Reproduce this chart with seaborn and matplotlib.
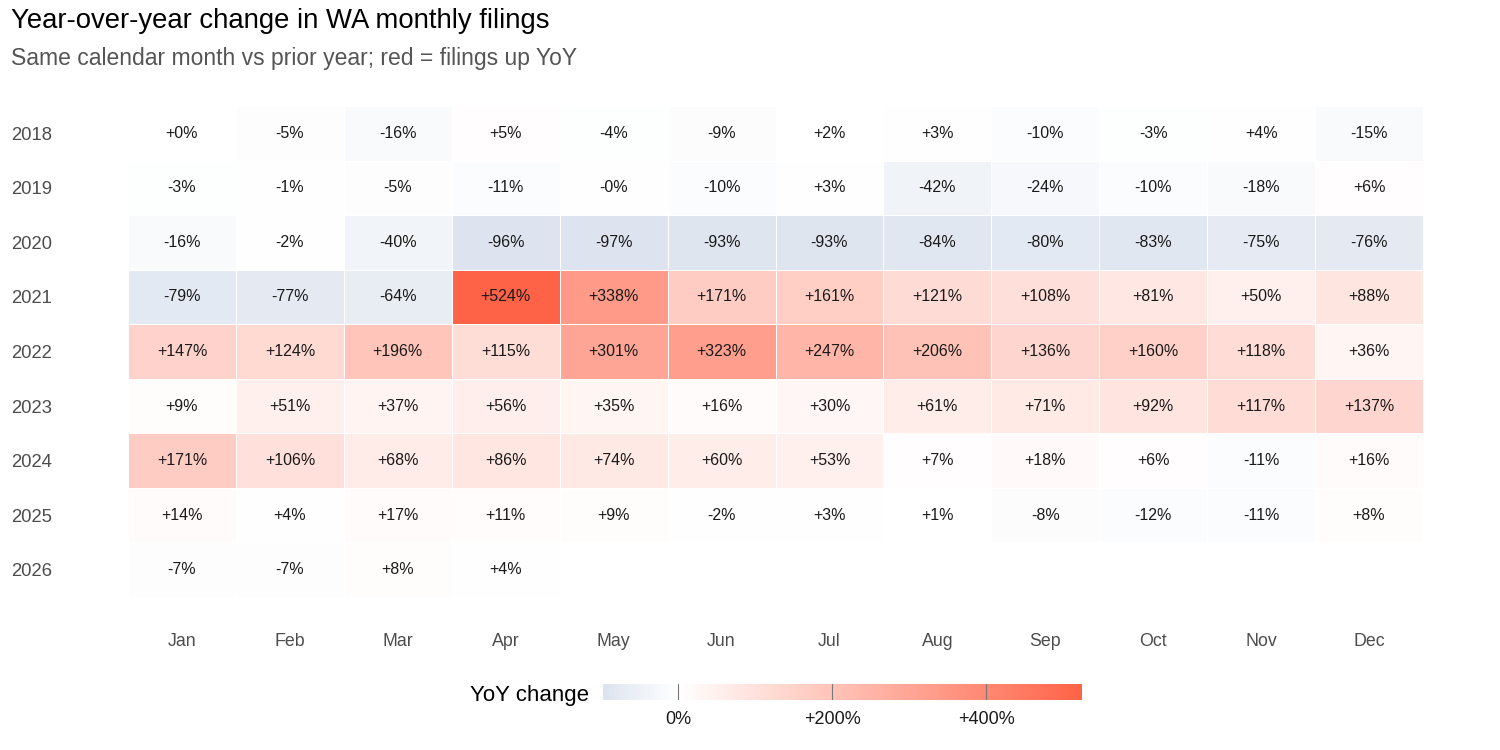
import numpy as np
import pandas as pd
import seaborn as sns
import matplotlib
matplotlib.use("Agg")
import matplotlib.pyplot as plt
from matplotlib.colors import LinearSegmentedColormap, Normalize
from matplotlib.cm import ScalarMappable

years = ["2018", "2019", "2020", "2021", "2022", "2023", "2024", "2025", "2026"]
months = ["Jan", "Feb", "Mar", "Apr", "May", "Jun", "Jul", "Aug", "Sep", "Oct", "Nov", "Dec"]

nan = np.nan
yoy_2018 = [0.3, -5, -16, 5, -4, -9, 2, 3, -10, -3, 4, -15]
yoy_2019 = [-3, -1, -5, -11, -0.3, -10, 3, -42, -24, -10, -18, 6]
yoy_2020 = [-16, -2, -40, -96, -97, -93, -93, -84, -80, -83, -75, -76]
yoy_2021 = [-79, -77, -64, 524, 338, 171, 161, 121, 108, 81, 50, 88]
yoy_2022 = [147, 124, 196, 115, 301, 323, 247, 206, 136, 160, 118, 36]
yoy_2023 = [9, 51, 37, 56, 35, 16, 30, 61, 71, 92, 117, 137]
yoy_2024 = [171, 106, 68, 86, 74, 60, 53, 7, 18, 6, -11, 16]
yoy_2025 = [14, 4, 17, 11, 9, -2, 3, 1, -8, -12, -11, 8]
yoy_2026 = [-7, -7, 8, 4, nan, nan, nan, nan, nan, nan, nan, nan]

cbar_ticks = [0, 200, 400]
cbar_labels = ["0%", "+200%", "+400%"]

data = pd.DataFrame([yoy_2018, yoy_2019, yoy_2020, yoy_2021, yoy_2022,
                     yoy_2023, yoy_2024, yoy_2025, yoy_2026],
                    index=years, columns=months)
annot = data.map(lambda v: "" if pd.isna(v) else format(v, "+.0f") + "%")

vmin, vmax = np.nanmin(data.values), np.nanmax(data.values)
mid = (0 - vmin) / (vmax - vmin)
cmap = LinearSegmentedColormap.from_list(
    "yoy", [(0.0, "#dde4ef"), (mid, "#ffffff"), (1.0, "#ff6347")])
norm = Normalize(vmin=vmin, vmax=vmax)

sns.set_theme(style="white")
plt.rcParams["font.family"] = ["Liberation Sans", "DejaVu Sans"]

fig = plt.figure(figsize=(15, 7.5), dpi=100)
ax = fig.add_axes([128/1500, 1-597/750, (1423-128)/1500, (597-106)/750])

sns.heatmap(data, ax=ax, cmap=cmap, norm=norm, cbar=False,
            annot=annot.values, fmt="", linewidths=0.6, linecolor="white",
            annot_kws={"fontsize": 11.5, "color": "#1a1a1a"})

ax.set_xlabel("")
ax.set_ylabel("")
ax.tick_params(axis="both", length=0)
ax.tick_params(axis="x", pad=26, labelsize=12.8, labelcolor="#4d4d4d")
ax.tick_params(axis="y", pad=84, labelsize=13.3, labelcolor="#4d4d4d")
for t in ax.get_yticklabels():
    t.set_rotation(0)
    t.set_ha("left")
    t.set_va("center_baseline")
for t in ax.get_xticklabels():
    t.set_rotation(0)
for s in ax.spines.values():
    s.set_visible(False)

fig.text(11/1500, 1-21/750, "Year-over-year change in WA monthly filings",
         fontsize=19.8, color="black", ha="left", va="center")
fig.text(11/1500, 1-58/750, "Same calendar month vs prior year; red = filings up YoY",
         fontsize=16.5, color="#555555", ha="left", va="center")

cax = fig.add_axes([603/1500, 1-700/750, (1082-603)/1500, 16/750])
sm = ScalarMappable(norm=norm, cmap=cmap)
cb = fig.colorbar(sm, cax=cax, orientation="horizontal")
cb.outline.set_visible(False)
cb.set_ticks(cbar_ticks)
cb.set_ticklabels(cbar_labels)
cax.tick_params(length=0, pad=8, labelsize=13, labelcolor="#1a1a1a")
for t in cbar_ticks:
    cax.axvline(t, color="#777777", lw=0.8)
fig.text(470/1500, 1-696/750, "YoY change", fontsize=16, color="black",
         ha="left", va="center")

fig.savefig("out.png", dpi=100, facecolor="white")
